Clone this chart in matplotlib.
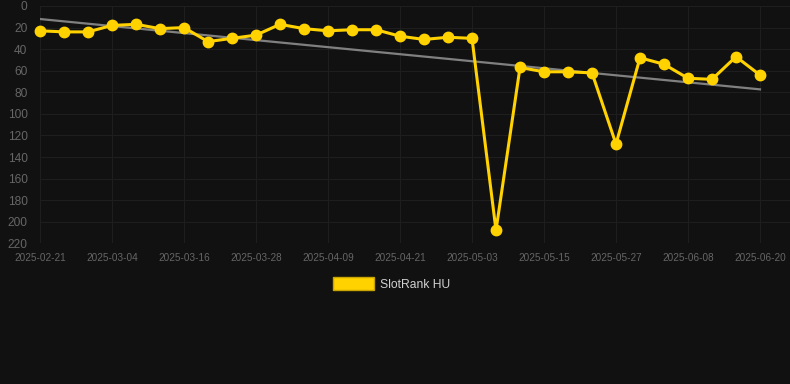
import numpy as np
import matplotlib.pyplot as plt

# SlotRank HU - Rang pro Messpunkt (alle 4 Tage)
tick_labels = ['2025-02-21', '2025-03-04', '2025-03-16', '2025-03-28', '2025-04-09',
               '2025-04-21', '2025-05-03', '2025-05-15', '2025-05-27', '2025-06-08',
               '2025-06-20']
ranks = [23, 24, 24, 18, 17, 21, 20, 33, 30, 27, 17, 21, 23, 22, 22, 28,
         31, 29, 30, 208, 57, 61, 61, 62, 128, 48, 54, 67, 68, 47, 64]
series_name = 'SlotRank HU'

plt.rcParams['font.family'] = ['Liberation Sans', 'DejaVu Sans']

bg = '#111111'
yellow = '#ffd200'

x = np.arange(len(ranks))
y = np.array(ranks)

# lineare Trendlinie
slope, intercept = np.polyfit(x, y, 1)
trend = slope * x + intercept

fig = plt.figure(figsize=(7.9, 3.84), dpi=100, facecolor=bg)
ax = fig.add_axes([40 / 790, 1 - 243.3 / 384, 750 / 790, (243.3 - 6) / 384])
ax.set_facecolor(bg)

ax.plot(x, trend, color='#808080', linewidth=1.6, zorder=2)
ax.plot(x, y, color=yellow, linewidth=2.2, marker='o', markersize=7.5,
        zorder=3, label=series_name, clip_on=False)

ax.set_xlim(0, 31.25)
ax.set_ylim(220, 0)
ax.set_yticks(np.arange(0, 221, 20))
ax.set_xticks(np.arange(0, len(ranks), 3))
ax.set_xticklabels(tick_labels)

ax.grid(True, color='#1e1e1e', linewidth=0.8)
ax.set_axisbelow(True)
for s in ax.spines.values():
    s.set_visible(False)
ax.tick_params(axis='x', colors='#666666', labelsize=7.2, length=0, pad=7)
ax.tick_params(axis='y', colors='#666666', labelsize=8.6, length=0, pad=9)

handle = plt.Rectangle((0, 0), 1, 1, facecolor=yellow, edgecolor='#c8a400')
leg = fig.legend([handle], [series_name], loc='center', bbox_to_anchor=(392 / 790, 1 - 284 / 384),
                 frameon=False, fontsize=8.7, handlelength=3.4, handleheight=1.2,
                 handletextpad=0.5)
for t in leg.get_texts():
    t.set_color('#d0d0d0')

fig.savefig('out.png', dpi=100, facecolor=bg)
